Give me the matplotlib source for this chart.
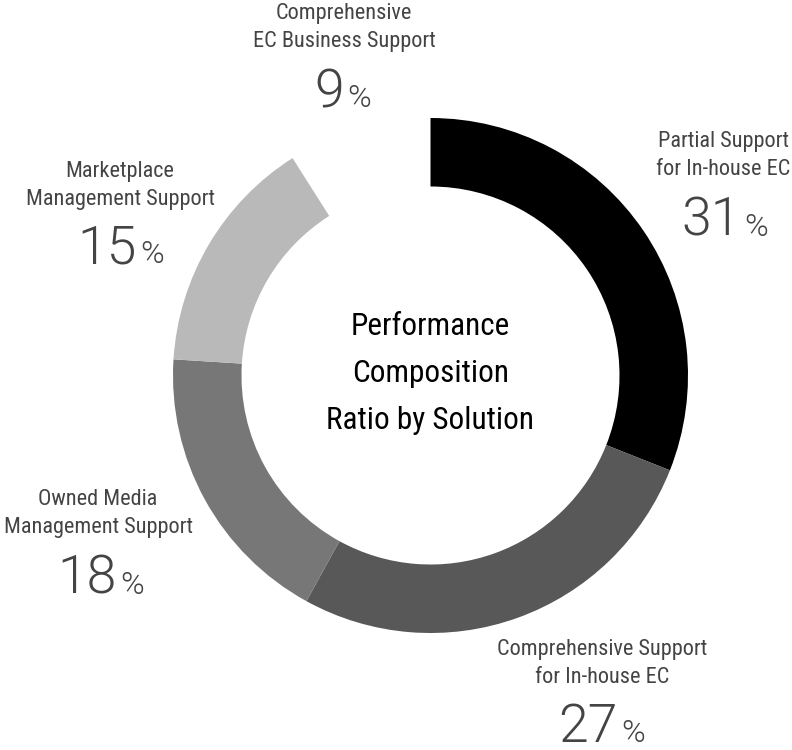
import matplotlib.pyplot as plt

# data
solutions = ['Partial Support\nfor In-house EC',
             'Comprehensive Support\nfor In-house EC',
             'Owned Media\nManagement Support',
             'Marketplace\nManagement Support',
             'Comprehensive\nEC Business Support']
shares = [31, 27, 18, 15, 9]
colors = ['#000000', '#585858', '#777777', '#b9b9b9', 'none']
center_title = ['Performance', 'Composition', 'Ratio by Solution']

# layout (pixel coords, y measured from top of image)
W, H = 792, 750
cx, cy, r_out, ring_w = 430.5, 375.5, 257.5, 68.5
label_x = [723, 602, 98, 120, 344]
label_base = [175, 683, 533, 205, 47]   # baseline of the last label line
pct_split = [741, 618, 117, 137, 344]   # right edge of the number
pct_base = [236, 742, 594, 263, 107]

cond = ['Roboto Condensed', 'DejaVu Sans']
numf = ['Roboto', 'DejaVu Sans']
txt = '#444444'

fig = plt.figure(figsize=(W / 100, H / 100), dpi=100)
ax = fig.add_axes([0, 0, 1, 1])
ax.axis('off')

ax.pie(shares, colors=colors, startangle=90, counterclock=False,
       radius=r_out, center=(cx, H - cy),
       wedgeprops=dict(width=ring_w, linewidth=0))
ax.set_xlim(0, W)
ax.set_ylim(0, H)
ax.set_aspect('equal')

for name, val, lx, lb, sx, sb in zip(solutions, shares, label_x, label_base, pct_split, pct_base):
    lines = name.split('\n')
    for i, line in enumerate(lines):
        yb = lb - 28 * (len(lines) - 1 - i)
        ax.text(lx, H - yb, line, ha='center', va='baseline', fontsize=16,
                family=cond, color=txt)
    ax.text(sx, H - sb, str(val), ha='right', va='baseline', fontsize=38.5,
            family=numf, fontweight=300, color=txt)
    ax.text(sx + 3, H - sb, '%', ha='left', va='baseline', fontsize=23,
            family=numf, fontweight=300, color=txt)

for i, line in enumerate(center_title):
    ax.text(cx, H - (335 + 47 * i), line, ha='center', va='baseline', fontsize=22.5,
            family=cond, color='black')

fig.savefig('out.png', dpi=100)
